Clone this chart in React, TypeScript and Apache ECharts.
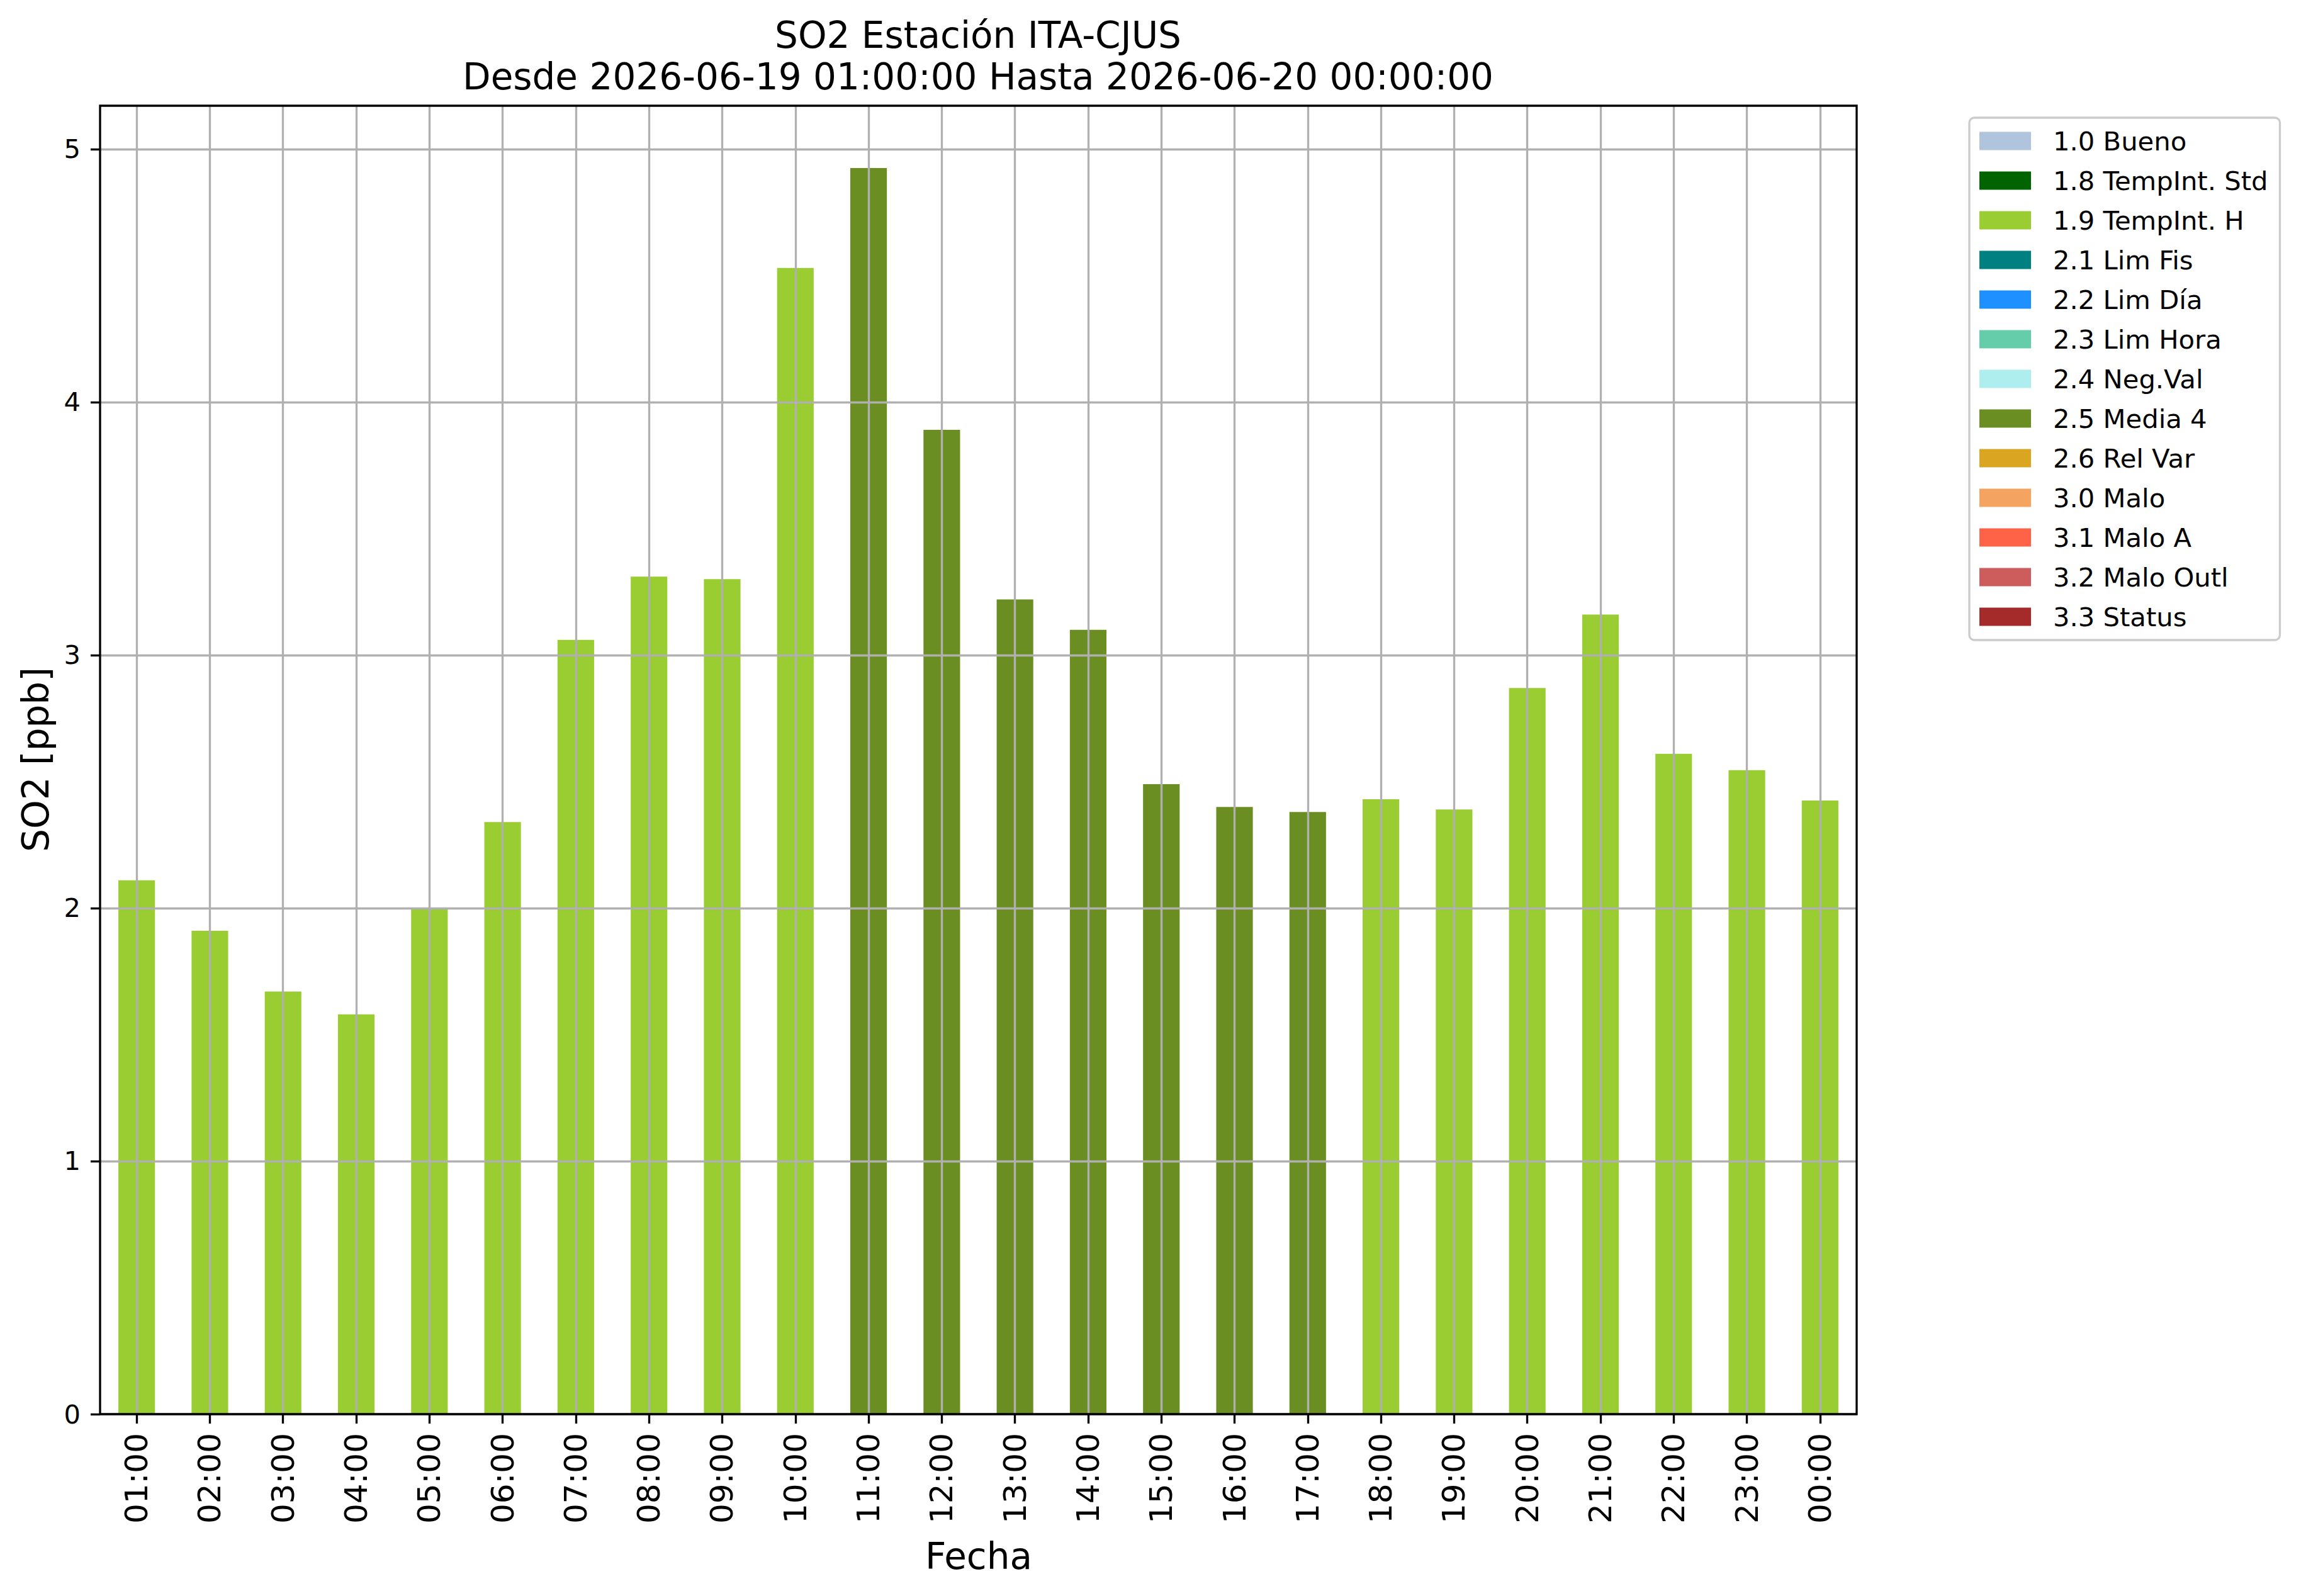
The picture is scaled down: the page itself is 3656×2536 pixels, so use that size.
import React, { useEffect, useRef } from "react";
import * as echarts from "echarts";

const hours = [
  "01:00", "02:00", "03:00", "04:00", "05:00", "06:00", "07:00", "08:00",
  "09:00", "10:00", "11:00", "12:00", "13:00", "14:00", "15:00", "16:00",
  "17:00", "18:00", "19:00", "20:00", "21:00", "22:00", "23:00", "00:00",
];

const so2Values = [
  2.11, 1.91, 1.67, 1.58, 2.0, 2.34, 3.06, 3.31,
  3.30, 4.53, 4.925, 3.89, 3.22, 3.10, 2.49, 2.40,
  2.38, 2.43, 2.39, 2.87, 3.16, 2.61, 2.545, 2.425,
];

const qualityFlags = [
  "1.9", "1.9", "1.9", "1.9", "1.9", "1.9", "1.9", "1.9",
  "1.9", "1.9", "2.5", "2.5", "2.5", "2.5", "2.5", "2.5",
  "2.5", "1.9", "1.9", "1.9", "1.9", "1.9", "1.9", "1.9",
];

const flagCodes = ["1.0", "1.8", "1.9", "2.1", "2.2", "2.3", "2.4", "2.5", "2.6", "3.0", "3.1", "3.2", "3.3"];
const flagNames = [
  "1.0 Bueno", "1.8 TempInt. Std", "1.9 TempInt. H", "2.1 Lim Fis", "2.2 Lim Día",
  "2.3 Lim Hora", "2.4 Neg.Val", "2.5 Media 4", "2.6 Rel Var", "3.0 Malo",
  "3.1 Malo A", "3.2 Malo Outl", "3.3 Status",
];
const flagColors = [
  "#B0C4DE", "#006400", "#9ACD32", "#008080", "#1E90FF", "#66CDAA", "#AFEEEE",
  "#6B8E23", "#DAA520", "#F4A460", "#FF6347", "#CD5C5C", "#A52A2A",
];

const yTicks = [0, 1, 2, 3, 4, 5];

const titleLine1 = "SO2 Estación ITA-CJUS";
const titleLine2 = "Desde 2026-06-19 01:00:00 Hasta 2026-06-20 00:00:00";
const yLabel = "SO2 [ppb]";
const xLabel = "Fecha";

const FONT = '"DejaVu Sans", Verdana, sans-serif';

export default function App() {
  const ref = useRef<HTMLDivElement>(null);

  useEffect(() => {
    document.body.style.margin = "0";
    if (!ref.current) return;
    const chart = echarts.init(ref.current, null, { renderer: "svg" });

    const gLeft = 159;
    const gTop = 168;
    const gWidth = 2791;
    const gHeight = 2079;
    const lw = 3.33;

    const series = flagCodes.map((code, k) => ({
      name: flagNames[k],
      type: "bar",
      stack: "q",
      barWidth: "50%",
      z: 2,
      itemStyle: { color: flagColors[k] },
      data: so2Values.map((v, i) => (qualityFlags[i] === code ? v : "-")),
    }));

    const ymax = Math.max(...so2Values) * 1.05;

    chart.setOption({
      animation: false,
      backgroundColor: "#ffffff",
      textStyle: { fontFamily: FONT },
      grid: { left: gLeft, top: gTop, width: gWidth, height: gHeight, containLabel: false },
      xAxis: {
        type: "category",
        data: hours,
        z: 4,
        boundaryGap: true,
        axisLine: { show: false },
        axisTick: {
          show: true,
          alignWithLabel: true,
          interval: 0,
          length: 15,
          lineStyle: { color: "#000", width: lw },
        },
        axisLabel: {
          interval: 0,
          rotate: 90,
          fontSize: 50,
          fontFamily: FONT,
          color: "#000",
          margin: 30,
        },
        splitLine: {
          show: true,
          alignWithLabel: true,
          interval: 0,
          lineStyle: { color: "#b0b0b0", width: lw },
        },
      },
      yAxis: {
        type: "value",
        min: 0,
        max: ymax,
        interval: 1,
        z: 3,
        axisLine: { show: false },
        axisTick: {
          show: true,
          length: 15,
          customValues: yTicks,
          lineStyle: { color: "#000", width: lw },
        },
        axisLabel: {
          customValues: yTicks,
          fontSize: 41.7,
          fontFamily: FONT,
          color: "#000",
          margin: 31,
          formatter: (v: number) => (Math.abs(v - Math.round(v)) < 1e-6 ? String(Math.round(v)) : ""),
        },
        splitLine: {
          show: true,
          lineStyle: { color: "#b0b0b0", width: lw },
        },
      },
      legend: {
        orient: "vertical",
        left: 3129,
        top: 187,
        padding: [16, 19, 16, 16],
        itemWidth: 82,
        itemHeight: 29,
        itemGap: 21,
        icon: "rect",
        selectedMode: false,
        borderColor: "#cccccc",
        borderWidth: 3.3,
        borderRadius: 8,
        backgroundColor: "rgba(255,255,255,0.8)",
        textStyle: {
          fontSize: 41.7,
          fontFamily: FONT,
          color: "#000",
          lineHeight: 40,
          padding: [0, 0, 0, 30],
        },
        data: flagNames,
      },
      graphic: [
        {
          type: "rect",
          z: 100,
          silent: true,
          shape: { x: gLeft, y: gTop, width: gWidth, height: gHeight },
          style: { fill: "none", stroke: "#000", lineWidth: lw },
        },
        {
          type: "text",
          x: 1554,
          y: 56,
          style: { text: titleLine1, font: `58px ${FONT}`, fill: "#000", align: "center", verticalAlign: "middle" },
        },
        {
          type: "text",
          x: 1554,
          y: 122,
          style: { text: titleLine2, font: `58px ${FONT}`, fill: "#000", align: "center", verticalAlign: "middle" },
        },
        {
          type: "text",
          x: 57,
          y: 1207,
          rotation: Math.PI / 2,
          style: { text: yLabel, font: `58px ${FONT}`, fill: "#000", align: "center", verticalAlign: "middle" },
        },
        {
          type: "text",
          x: 1555,
          y: 2473,
          style: { text: xLabel, font: `58px ${FONT}`, fill: "#000", align: "center", verticalAlign: "middle" },
        },
      ],
      series,
    });

    return () => chart.dispose();
  }, []);

  return <div ref={ref} style={{ width: 3656, height: 2536 }} />;
}
